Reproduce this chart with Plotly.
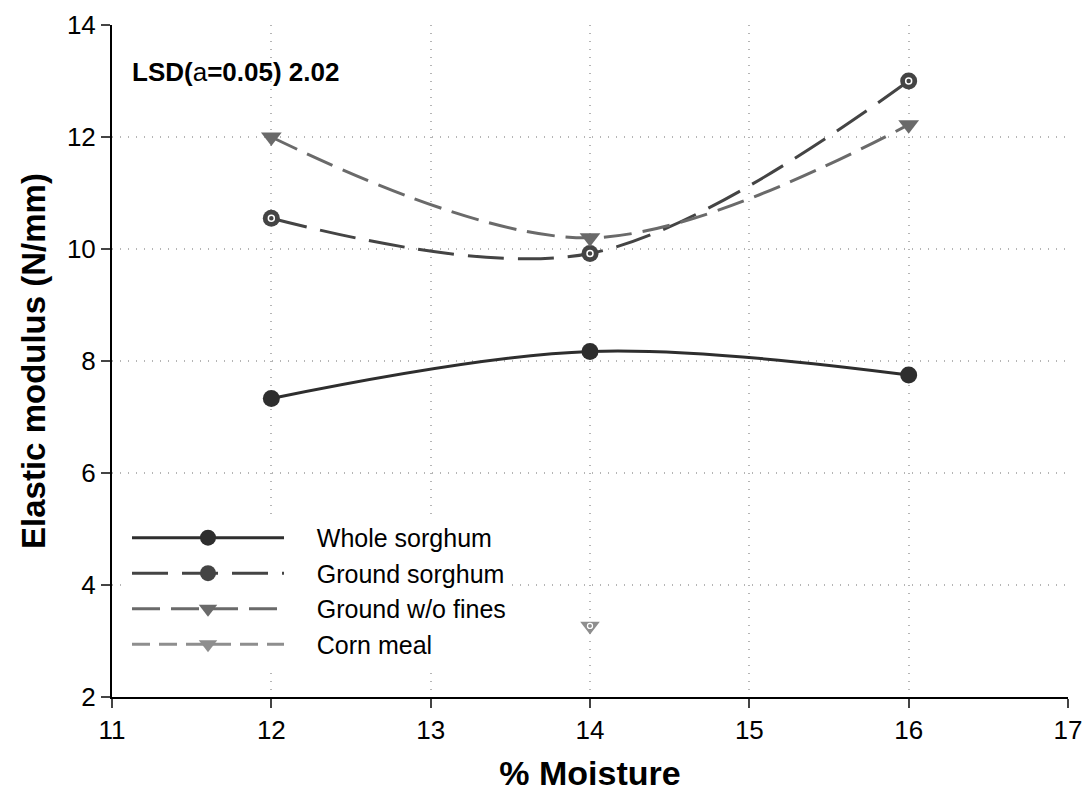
import plotly.graph_objects as go

moisture = [12, 14, 16]
whole_sorghum = [7.33, 8.17, 7.75]
ground_sorghum = [10.55, 9.92, 13.0]
ground_no_fines = [12.0, 10.2, 12.22]
corn_meal_x = [14]
corn_meal = [3.27]

x_ticks = [11, 12, 13, 14, 15, 16, 17]
y_ticks = [2, 4, 6, 8, 10, 12, 14]

series_names = ["Whole sorghum", "Ground sorghum", "Ground w/o fines", "Corn meal"]

FONT = "Liberation Sans, Arial, sans-serif"
PAD = "\u00a0" * 4  # gap between legend line sample and label

fig = go.Figure()

fig.add_trace(go.Scatter(
    x=moisture, y=whole_sorghum, name=PAD + series_names[0],
    mode="lines+markers",
    line=dict(color="#2e2e2e", width=3, shape="spline", smoothing=1.0),
    marker=dict(symbol="circle", size=17, color="#2e2e2e"),
))
fig.add_trace(go.Scatter(
    x=moisture, y=ground_sorghum, name=PAD + series_names[1],
    mode="lines+markers",
    line=dict(color="#444444", width=3, shape="spline", smoothing=1.0, dash="36px,14px"),
    marker=dict(symbol="circle", size=17, color="#444444"),
))
fig.add_trace(go.Scatter(
    x=moisture, y=ground_sorghum, showlegend=False, hoverinfo="skip",
    mode="markers",
    marker=dict(symbol="circle", size=6, color="#444444", line=dict(color="white", width=1.5)),
))
fig.add_trace(go.Scatter(
    x=moisture, y=ground_no_fines, name=PAD + series_names[2],
    mode="lines+markers",
    line=dict(color="#6a6a6a", width=3, shape="spline", smoothing=1.0, dash="28px,11px"),
    marker=dict(symbol="triangle-down", size=18, color="#6a6a6a"),
))
fig.add_trace(go.Scatter(
    x=corn_meal_x, y=corn_meal, name=PAD + series_names[3],
    mode="lines+markers",
    line=dict(color="#8e8e8e", width=3, dash="18px,9px"),
    marker=dict(symbol="triangle-down", size=17, color="#8e8e8e"),
))
fig.add_trace(go.Scatter(
    x=corn_meal_x, y=corn_meal, showlegend=False, hoverinfo="skip",
    mode="markers",
    marker=dict(symbol="circle", size=5, color="#8e8e8e", line=dict(color="white", width=1.3)),
))

fig.update_layout(
    width=1089, height=792,
    paper_bgcolor="white", plot_bgcolor="white",
    margin=dict(l=112, r=21, t=25, b=95),
    font=dict(family=FONT, size=26, color="black"),
    showlegend=True,
    legend=dict(
        x=0.0157, y=0.271, xanchor="left", yanchor="top",
        bgcolor="white", borderwidth=0,
        font=dict(size=25, family=FONT),
        itemwidth=152, tracegroupgap=0,
    ),
    xaxis=dict(
        range=[11, 17], tickvals=x_ticks, ticks="outside", ticklen=9, tickwidth=1.5,
        showline=True, linecolor="black", linewidth=2,
        showgrid=True, gridcolor="#b5b5b5", griddash="1px,7px", gridwidth=1.5,
        zeroline=False, automargin=False,
        title=dict(text="<b>% Moisture</b>", font=dict(size=34, family=FONT), standoff=18),
        tickfont=dict(size=26),
    ),
    yaxis=dict(
        range=[2, 14], tickvals=y_ticks, ticks="outside", ticklen=9, tickwidth=1.5,
        showline=True, linecolor="black", linewidth=2,
        showgrid=True, gridcolor="#b5b5b5", griddash="1px,7px", gridwidth=1.5,
        zeroline=False, automargin=False,
        title=dict(text="<b>Elastic modulus (N/mm)</b>", font=dict(size=33, family=FONT), standoff=11),
        tickfont=dict(size=26),
    ),
    annotations=[dict(
        x=0.019, y=0.93, xref="paper", yref="paper", xanchor="left", yanchor="middle",
        text="<b>LSD(</b>a<b>=0.05) 2.02</b>", showarrow=False,
        font=dict(size=26, family=FONT, color="black"),
    )],
)

fig.write_html("out.html")
